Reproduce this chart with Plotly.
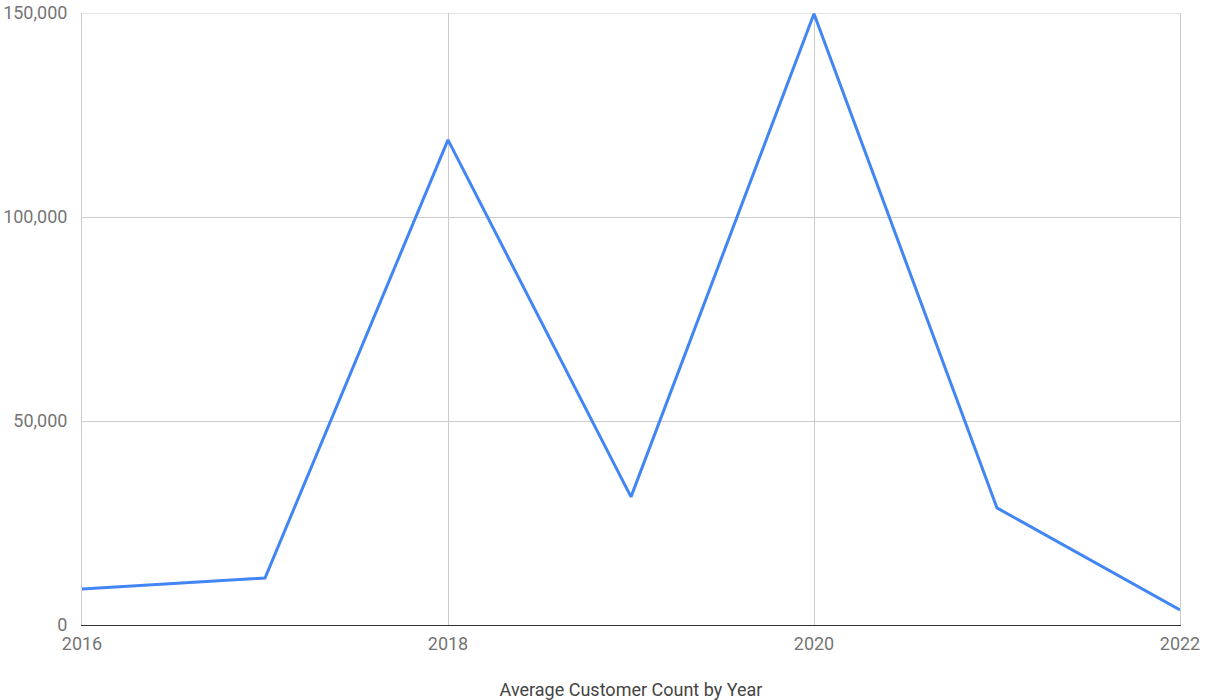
import plotly.graph_objects as go

# Average customer count per year
years = [2016, 2017, 2018, 2019, 2020, 2021, 2022]
avg_customers = [8800, 11500, 118900, 31400, 149800, 28700, 3700]

x_ticks = [2016, 2018, 2020, 2022]
y_ticks = [0, 50000, 100000, 150000]
y_tick_text = ["0", "50,000", "100,000", "150,000"]

fig = go.Figure(
    go.Scatter(
        x=years,
        y=avg_customers,
        mode="lines",
        line=dict(color="#4285F4", width=3),
        hoverinfo="x+y",
    )
)

fig.update_layout(
    width=1209,
    height=700,
    margin=dict(l=82, r=29, t=13, b=75),
    paper_bgcolor="white",
    plot_bgcolor="white",
    showlegend=False,
    font=dict(family="Roboto, Arial, sans-serif", size=18, color="#757575"),
    # top border of the plot area, drawn like a gridline
    shapes=[
        dict(
            type="line", xref="paper", x0=0, x1=1, yref="y",
            y0=y_ticks[-1], y1=y_ticks[-1],
            line=dict(color="#cccccc", width=1), layer="below",
        )
    ],
)

fig.update_xaxes(
    range=[2016, 2022],
    tickmode="array",
    tickvals=x_ticks,
    ticktext=[str(v) for v in x_ticks],
    showgrid=True,
    gridcolor="#cccccc",
    gridwidth=1,
    zeroline=False,
    showline=True,
    linecolor="#333333",
    linewidth=1,
    mirror=False,
    ticks="",
    ticklabelstandoff=2,
    automargin=False,
    title=dict(
        text="Average Customer Count by Year",
        font=dict(size=18, color="#444444"),
        standoff=33,
    ),
)

fig.update_yaxes(
    range=[0, 150000],
    tickmode="array",
    tickvals=y_ticks,
    ticktext=y_tick_text,
    showgrid=True,
    gridcolor="#cccccc",
    gridwidth=1,
    zeroline=False,
    showline=True,
    linecolor="#cccccc",
    linewidth=1,
    mirror=True,
    ticks="",
    ticklabelstandoff=10,
    automargin=False,
)

fig.write_html("out.html")
